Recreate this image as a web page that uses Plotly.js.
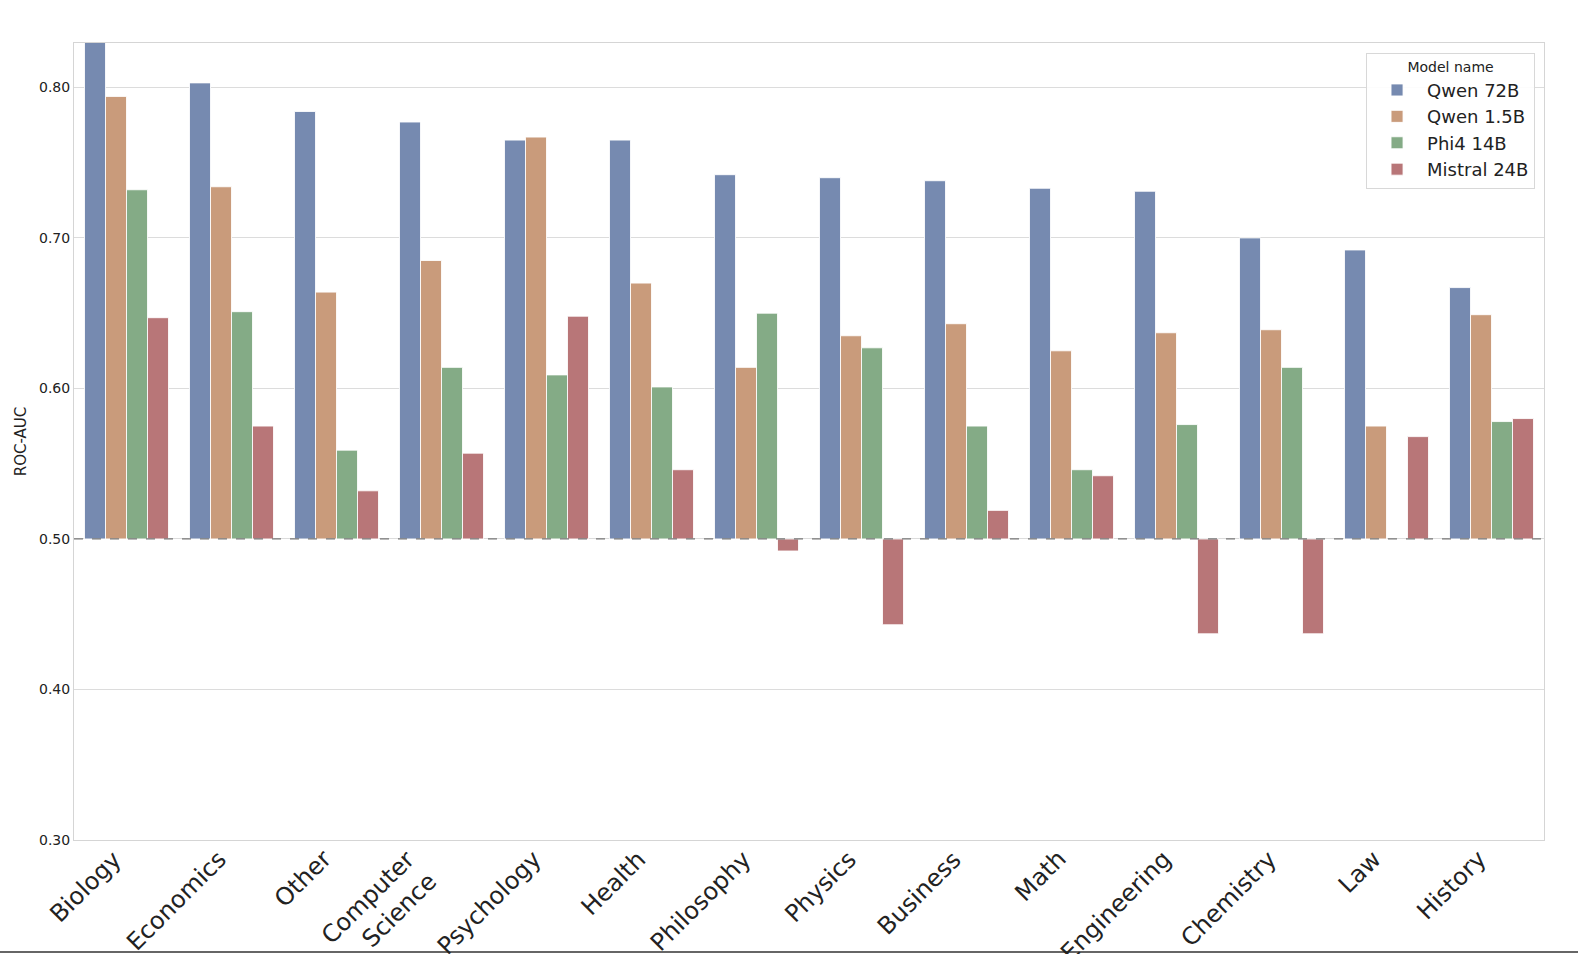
<!DOCTYPE html>
<html>
<head>
<meta charset="utf-8">
<script src="https://cdn.plot.ly/plotly-3.0.1.min.js"></script>
<style>html,body{margin:0;padding:0;background:#fff;overflow:hidden;width:1578px;height:954px;}#chart{width:1578px;height:954px;}</style>
</head>
<body>
<div id="chart"></div>
<script>
const categories = ["Biology","Economics","Other","Computer<br>Science","Psychology","Health","Philosophy","Physics","Business","Math","Engineering","Chemistry","Law","History"];
const qwen72 = [0.830,0.803,0.784,0.777,0.765,0.765,0.742,0.740,0.738,0.733,0.731,0.700,0.692,0.667];
const qwen15 = [0.794,0.734,0.664,0.685,0.767,0.670,0.614,0.635,0.643,0.625,0.637,0.639,0.575,0.649];
const phi4 = [0.732,0.651,0.559,0.614,0.609,0.601,0.650,0.627,0.575,0.546,0.576,0.614,null,0.578];
const mistral = [0.647,0.575,0.532,0.557,0.648,0.546,0.492,0.443,0.519,0.542,0.437,0.437,0.568,0.580];
const seriesNames = ["Qwen 72B","Qwen 1.5B","Phi4 14B","Mistral 24B"];
const tickVals = [0.30,0.40,0.50,0.60,0.70,0.80];
const tickText = ["0.30","0.40","0.50","0.60","0.70","0.80"];
const baseline = 0.5;

const colors = ["#768ab0","#c99b7b","#84ab86","#b87678"];
const seriesVals = [qwen72, qwen15, phi4, mistral];

const traces = seriesVals.map((vals, i) => ({
  type: "bar",
  name: seriesNames[i],
  x: categories,
  y: vals.map(v => v === null ? null : v - baseline),
  base: baseline,
  marker: {color: colors[i], line: {color: "rgba(255,255,255,0.85)", width: 1}},
  hoverinfo: "skip"
}));

const catLabels = categories.map((c, i) => ({
  xref: "x", yref: "paper", x: i, y: -0.003, xshift: 3,
  text: c, showarrow: false, textangle: -45,
  xanchor: "right", yanchor: "top", align: "right",
  font: {size: 24, color: "#222", family: "DejaVu Sans, sans-serif"}
}));

const layout = {
  width: 1578, height: 954,
  margin: {l: 74, r: 34, t: 43, b: 114},
  paper_bgcolor: "#fff", plot_bgcolor: "#fff",
  font: {family: "DejaVu Sans, sans-serif", color: "#222"},
  barmode: "group", bargap: 0.2, bargroupgap: 0,
  showlegend: true,
  legend: {
    x: 0.9939, xanchor: "right", y: 0.988, yanchor: "top",
    bgcolor: "rgba(255,255,255,0.9)", bordercolor: "#d8d8d8", borderwidth: 1,
    title: {text: "Model name", font: {size: 14, color: "#222"}, side: "top center"},
    font: {size: 18, color: "#222"},
    tracegroupgap: 0, itemwidth: 50
  },
  xaxis: {
    type: "category",
    range: [-0.5, categories.length - 0.5],
    autorange: false,
    automargin: false,
    showticklabels: false,
    showgrid: false, zeroline: false,
    showline: true, linecolor: "#d5d5d5", linewidth: 1, mirror: true,
    ticks: "", ticklen: 0
  },
  yaxis: {
    automargin: false,
    range: [0.3, 0.8295],
    tickvals: tickVals, ticktext: tickText,
    tickfont: {size: 14, color: "#222"},
    showgrid: true, gridcolor: "#dcdcdc", gridwidth: 1,
    zeroline: false,
    showline: true, linecolor: "#d5d5d5", linewidth: 1, mirror: true,
    ticks: "", ticklen: 0,
    title: {text: "ROC-AUC", font: {size: 15, color: "#222"}, standoff: 8}
  },
  annotations: catLabels,
  shapes: [
    {type: "line", xref: "paper", yref: "y", x0: 0, x1: 1, y0: baseline, y1: baseline,
     line: {color: "#777", width: 1.3, dash: "dash"}},
    {type: "line", xref: "paper", yref: "paper", x0: -0.06, x1: 1.04, y0: -0.1405, y1: -0.1405,
     line: {color: "#666", width: 2}}
  ]
};

Plotly.newPlot("chart", traces, layout, {displayModeBar: false, staticPlot: true});
</script>
</body>
</html>
